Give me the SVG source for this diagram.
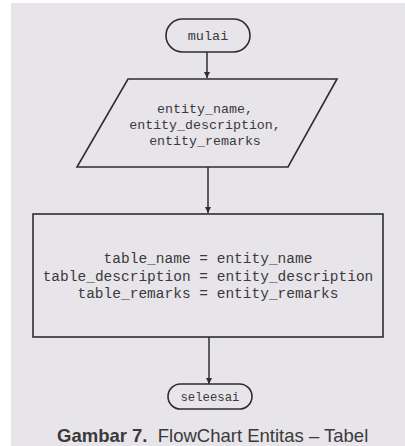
<svg xmlns="http://www.w3.org/2000/svg" width="405" height="446" viewBox="0 0 405 446">
<style>
.shape{fill:none;stroke:#2e2e2e;stroke-width:1.6}
.code{font-family:"Liberation Mono","Courier New",monospace;fill:#3a3a3a;text-anchor:middle}
.conn{stroke:#2e2e2e;stroke-width:1.5;fill:none}
.cap{font-family:"Liberation Sans",Arial,sans-serif;fill:#3a3a3a;font-size:18.5px}
</style>
<defs>
<marker id="arr" viewBox="0 0 10 10" refX="10" refY="5" markerWidth="6" markerHeight="7" markerUnits="userSpaceOnUse" orient="auto">
<path d="M0,0 L10,5 L0,10 Z" fill="#2e2e2e"/>
</marker>
</defs>
<rect x="0" y="0" width="405" height="446" fill="#ffffff"/>
<rect x="11" y="3" width="394" height="443" fill="#e7e4ea"/>
<g id="connectors">
<line class="conn" x1="207" y1="52" x2="207" y2="78" marker-end="url(#arr)"/>
<line class="conn" x1="208" y1="167" x2="208" y2="213" marker-end="url(#arr)"/>
<line class="conn" x1="209" y1="337" x2="209" y2="384" marker-end="url(#arr)"/>
</g>
<g id="mulai">
<rect class="shape" x="166" y="19" width="84" height="33" rx="16.5"/>
<text class="code" x="208" y="40" font-size="13.5">mulai</text>
</g>
<g id="input">
<polygon class="shape" points="128,79 337,79 288,167 77,167"/>
<text class="code" x="205" y="113" font-size="13.3">entity_name,</text>
<text class="code" x="205" y="129" font-size="13.3">entity_description,</text>
<text class="code" x="205" y="145" font-size="13.3">entity_remarks</text>
</g>
<g id="process">
<rect class="shape" x="33" y="214" width="350" height="123"/>
<text class="code" x="208" y="263" font-size="14.5">table_name = entity_name</text>
<text class="code" x="208" y="281" font-size="14.5">table_description = entity_description</text>
<text class="code" x="208" y="298" font-size="14.5">table_remarks = entity_remarks</text>
</g>
<g id="selesai">
<rect class="shape" x="168" y="384" width="84" height="25" rx="12.5"/>
<text class="code" x="210" y="401" font-size="12.3">seleesai</text>
</g>
<text class="cap" x="57" y="442"><tspan font-weight="bold">Gambar 7.</tspan><tspan xml:space="preserve">  FlowChart Entitas – Tabel</tspan></text>
</svg>
